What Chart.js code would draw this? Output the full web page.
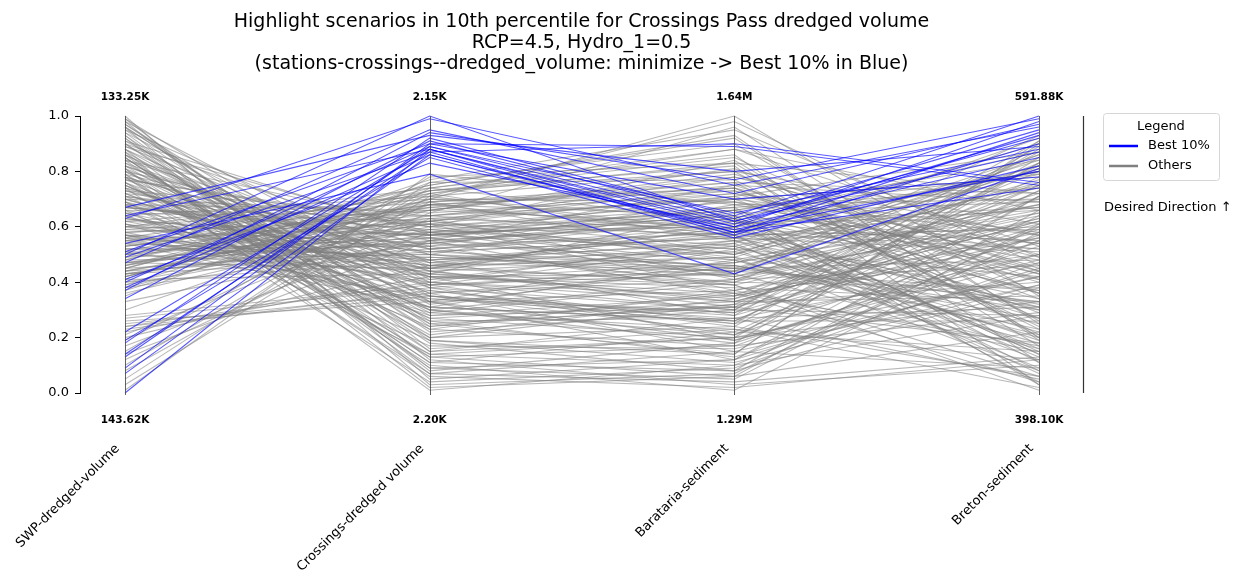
<!DOCTYPE html>
<html>
<head>
<meta charset="utf-8">
<script src="https://cdn.jsdelivr.net/npm/chart.js@4"></script>
<style>
  html, body { margin: 0; padding: 0; background: #fff; }
  #wrap { width: 1241px; height: 576px; }
</style>
</head>
<body>
<div id="wrap"><canvas id="pcChart" width="1241" height="576"></canvas></div>
<script>
// axes of the parallel plot
const axisNames = ['SWP-dredged-volume', 'Crossings-dredged volume', 'Barataria-sediment', 'Breton-sediment'];
const topLabels = ['133.25K', '2.15K', '1.64M', '591.88K'];
const bottomLabels = ['143.62K', '2.20K', '1.29M', '398.10K'];
const titleLines = [
    'Highlight scenarios in 10th percentile for Crossings Pass dredged volume',
    'RCP=4.5, Hydro_1=0.5',
    '(stations-crossings--dredged_volume: minimize -> Best 10% in Blue)'
];

// best 10% scenarios (normalised 0..1 per axis)
const bestSwp = [0.00, 0.07, 0.09, 0.13, 0.14, 0.18, 0.19, 0.22, 0.34, 0.37, 0.38, 0.40, 0.41, 0.47, 0.49, 0.50, 0.51, 0.54, 0.63, 0.64, 0.67];
const bestCrossings = [0.88, 0.86, 0.90, 0.89, 0.87, 0.92, 0.85, 0.88, 0.91, 0.94, 0.86, 0.89, 0.83, 0.95, 0.87, 1.00, 0.90, 0.79, 0.99, 0.88, 0.93];
const bestBarataria = [0.60, 0.58, 0.89, 0.62, 0.57, 0.64, 0.56, 0.61, 0.63, 0.77, 0.59, 0.65, 0.60, 0.72, 0.90, 0.62, 0.70, 0.43, 0.75, 0.58, 0.80];
const bestBreton = [0.98, 0.94, 0.75, 0.87, 0.90, 1.00, 0.82, 0.93, 0.95, 0.99, 0.80, 0.88, 0.85, 0.97, 0.76, 0.92, 0.78, 0.81, 0.96, 0.74, 0.89];

// all other scenarios
const othersSwp = [
    1.00, 0.98, 0.97, 0.95, 0.94, 0.93, 0.91, 0.90, 0.89, 0.88,
    0.87, 0.86, 0.85, 0.84, 0.83, 0.82, 0.81, 0.80, 0.80, 0.79,
    0.78, 0.78, 0.77, 0.76, 0.75, 0.74, 0.74, 0.73, 0.72, 0.71,
    0.70, 0.70, 0.69, 0.68, 0.67, 0.66, 0.65, 0.65, 0.64, 0.63,
    0.62, 0.61, 0.60, 0.60, 0.59, 0.58, 0.57, 0.56, 0.55, 0.55,
    0.54, 0.53, 0.52, 0.51, 0.50, 0.50, 0.49, 0.48, 0.47, 0.46,
    0.45, 0.45, 0.44, 0.43, 0.42, 0.41, 0.40, 0.40, 0.39, 0.38,
    0.37, 0.36, 0.35, 0.33, 0.30, 0.27, 0.25, 0.24, 0.23, 0.22,
    0.21, 0.19, 0.17, 0.15, 0.12, 0.10, 0.08, 0.05, 0.03, 0.01,
    0.99, 0.96, 0.92, 0.86, 0.82, 0.79, 0.76, 0.72, 0.68, 0.63,
    0.59, 0.57, 0.53, 0.48, 0.44, 0.42, 0.96, 0.90, 0.84, 0.77,
    0.71, 0.66, 0.61, 0.58, 0.52, 0.47, 0.43, 0.39, 0.88, 0.75,
    0.93, 0.81, 0.73, 0.69, 0.64, 0.56, 0.51, 0.46, 0.41, 0.26,
    0.97, 0.85, 0.78, 0.67, 0.62, 0.54, 0.49, 0.44, 0.20, 0.14,
    0.99, 0.95, 0.92, 0.89, 0.86, 0.83, 0.80, 0.77, 0.74, 0.71,
    0.68, 0.65, 0.62, 0.60, 0.57, 0.55, 0.52, 0.50, 0.47, 0.45,
    0.98, 0.94, 0.90, 0.87, 0.84, 0.81, 0.78, 0.76, 0.73, 0.70,
    0.67, 0.64, 0.61, 0.58, 0.56, 0.53, 0.51, 0.48, 0.46, 0.43,
    0.96, 0.91, 0.88, 0.85, 0.82, 0.79, 0.75, 0.72, 0.69, 0.66,
    0.63, 0.60, 0.57, 0.54, 0.50, 0.47, 0.42, 0.38, 0.28, 0.24
];
const othersCrossings = [
    0.05, 0.12, 0.30, 0.22, 0.40, 0.08, 0.35, 0.18, 0.45, 0.28,
    0.02, 0.38, 0.15, 0.50, 0.25, 0.42, 0.10, 0.33, 0.55, 0.20,
    0.47, 0.14, 0.60, 0.36, 0.27, 0.52, 0.04, 0.44, 0.31, 0.58,
    0.39, 0.65, 0.24, 0.48, 0.56, 0.17, 0.43, 0.62, 0.34, 0.51,
    0.70, 0.29, 0.46, 0.57, 0.66, 0.37, 0.53, 0.72, 0.41, 0.61,
    0.49, 0.68, 0.59, 0.75, 0.44, 0.63, 0.54, 0.71, 0.58, 0.67,
    0.52, 0.74, 0.64, 0.57, 0.69, 0.77, 0.60, 0.48, 0.73, 0.66,
    0.70, 0.62, 0.76, 0.55, 0.68, 0.38, 0.36, 0.40, 0.37, 0.42,
    0.65, 0.72, 0.58, 0.78, 0.63, 0.74, 0.69, 0.76, 0.71, 0.79,
    0.16, 0.26, 0.09, 0.32, 0.21, 0.06, 0.13, 0.35, 0.19, 0.45,
    0.54, 0.33, 0.62, 0.50, 0.61, 0.70, 0.03, 0.23, 0.11, 0.40,
    0.26, 0.47, 0.39, 0.64, 0.53, 0.45, 0.56, 0.59, 0.07, 0.30,
    0.19, 0.01, 0.50, 0.14, 0.28, 0.48, 0.35, 0.73, 0.43, 0.33,
    0.24, 0.11, 0.07, 0.57, 0.42, 0.31, 0.66, 0.51, 0.46, 0.55,
    0.33, 0.47, 0.20, 0.58, 0.09, 0.44, 0.27, 0.61, 0.38, 0.52,
    0.66, 0.31, 0.57, 0.74, 0.45, 0.62, 0.50, 0.68, 0.55, 0.72,
    0.41, 0.15, 0.52, 0.29, 0.60, 0.36, 0.48, 0.23, 0.64, 0.42,
    0.59, 0.71, 0.46, 0.63, 0.34, 0.67, 0.56, 0.75, 0.61, 0.49,
    0.25, 0.57, 0.39, 0.13, 0.46, 0.53, 0.30, 0.60, 0.43, 0.64,
    0.51, 0.69, 0.40, 0.73, 0.58, 0.62, 0.68, 0.54, 0.39, 0.35
];
const othersBarataria = [
    0.12, 0.03, 0.41, 0.30, 0.55, 0.18, 0.22, 0.08, 0.62, 0.35,
    0.06, 0.47, 0.27, 0.68, 0.14, 0.38, 0.01, 0.52, 0.75, 0.32,
    0.58, 0.10, 0.84, 0.44, 0.20, 0.63, 0.09, 0.33, 0.48, 0.71,
    0.25, 0.96, 0.36, 0.57, 0.42, 0.16, 0.66, 0.78, 0.29, 0.46,
    1.00, 0.40, 0.60, 0.52, 0.81, 0.26, 0.70, 0.88, 0.54, 0.37,
    0.45, 0.73, 0.50, 0.93, 0.31, 0.59, 0.65, 0.98, 0.43, 0.76,
    0.39, 0.86, 0.56, 0.67, 0.74, 0.95, 0.49, 0.28, 0.80, 0.61,
    0.69, 0.53, 0.90, 0.35, 0.64, 0.21, 0.15, 0.30, 0.24, 0.19,
    0.72, 0.55, 0.47, 0.83, 0.41, 0.62, 0.50, 0.77, 0.58, 0.68,
    0.23, 0.13, 0.05, 0.46, 0.34, 0.02, 0.17, 0.28, 0.11, 0.51,
    0.48, 0.19, 0.74, 0.40, 0.57, 0.63, 0.07, 0.37, 0.22, 0.33,
    0.27, 0.44, 0.53, 0.70, 0.36, 0.60, 0.45, 0.66, 0.04, 0.18,
    0.14, 0.10, 0.42, 0.20, 0.31, 0.51, 0.25, 0.85, 0.39, 0.12,
    0.32, 0.08, 0.15, 0.64, 0.43, 0.26, 0.79, 0.56, 0.49, 0.61,
    0.37, 0.55, 0.24, 0.66, 0.12, 0.49, 0.33, 0.72, 0.30, 0.60,
    0.78, 0.26, 0.64, 0.88, 0.40, 0.71, 0.46, 0.57, 0.62, 0.83,
    0.47, 0.20, 0.58, 0.23, 0.69, 0.41, 0.54, 0.17, 0.75, 0.36,
    0.52, 0.80, 0.39, 0.70, 0.27, 0.59, 0.66, 0.92, 0.50, 0.44,
    0.31, 0.63, 0.45, 0.06, 0.53, 0.58, 0.21, 0.67, 0.34, 0.73,
    0.56, 0.76, 0.35, 0.82, 0.60, 0.48, 0.74, 0.63, 0.43, 0.29
];
const othersBreton = [
    0.45, 0.10, 0.72, 0.28, 0.60, 0.85, 0.15, 0.38, 0.52, 0.80,
    0.22, 0.66, 0.05, 0.48, 0.90, 0.33, 0.58, 0.12, 0.41, 0.75,
    0.30, 0.55, 0.20, 0.68, 0.83, 0.08, 0.47, 0.62, 0.18, 0.36,
    0.88, 0.25, 0.50, 0.13, 0.70, 0.42, 0.03, 0.57, 0.78, 0.27,
    0.35, 0.65, 0.16, 0.82, 0.44, 0.73, 0.29, 0.53, 0.09, 0.61,
    0.77, 0.40, 0.86, 0.19, 0.56, 0.31, 0.69, 0.46, 0.93, 0.24,
    0.63, 0.11, 0.51, 0.74, 0.34, 0.49, 0.81, 0.59, 0.21, 0.67,
    0.43, 0.79, 0.26, 0.54, 0.14, 0.71, 0.39, 0.87, 0.06, 0.48,
    0.58, 0.32, 0.76, 0.17, 0.64, 0.37, 0.84, 0.23, 0.52, 0.70,
    0.02, 0.44, 0.61, 0.30, 0.76, 0.12, 0.55, 0.89, 0.39, 0.20,
    0.68, 0.50, 0.27, 0.83, 0.07, 0.41, 0.60, 0.15, 0.73, 0.35,
    0.47, 0.86, 0.22, 0.57, 0.04, 0.66, 0.33, 0.79, 0.13, 0.53,
    0.91, 0.28, 0.62, 0.42, 0.18, 0.75, 0.50, 0.36, 0.01, 0.64,
    0.40, 0.71, 0.09, 0.54, 0.85, 0.26, 0.45, 0.67, 0.31, 0.80,
    0.56, 0.19, 0.83, 0.36, 0.71, 0.08, 0.62, 0.44, 0.91, 0.27,
    0.50, 0.75, 0.14, 0.66, 0.38, 0.87, 0.23, 0.59, 0.04, 0.72,
    0.65, 0.33, 0.80, 0.12, 0.54, 0.46, 0.92, 0.29, 0.69, 0.17,
    0.42, 0.61, 0.06, 0.78, 0.31, 0.55, 0.84, 0.20, 0.74, 0.37,
    0.82, 0.15, 0.48, 0.66, 0.25, 0.90, 0.57, 0.11, 0.63, 0.43,
    0.34, 0.72, 0.58, 0.03, 0.80, 0.21, 0.49, 0.87, 0.16, 0.60
];

const GRAY = 'rgba(128,128,128,0.55)';
const BLUE = 'rgba(0,0,255,0.65)';
const FONT = '"DejaVu Sans", sans-serif';

// one dataset per scenario, points at axis index 0..3
const makeLine = (cols, i, color, order) => ({
    data: cols.map((col, k) => ({ x: k, y: col[i] })),
    borderColor: color,
    borderWidth: 1.1,
    pointRadius: 0,
    tension: 0,
    clip: false,
    order
});

const datasets = [];
othersSwp.forEach((_, i) => datasets.push(makeLine([othersSwp, othersCrossings, othersBarataria, othersBreton], i, GRAY, 1)));
bestSwp.forEach((_, i) => datasets.push(makeLine([bestSwp, bestCrossings, bestBarataria, bestBreton], i, BLUE, 0)));

// draws the vertical axes, the min/max labels, names, title and legend
const parallelDecor = {
    id: 'parallelDecor',
    afterDatasetsDraw(chart) {
        const { ctx, scales: { x, y } } = chart;
        ctx.save();
        ctx.strokeStyle = 'rgba(70,70,70,0.85)';
        ctx.lineWidth = 1;
        axisNames.forEach((_, k) => {
            const px = Math.round(x.getPixelForValue(k)) + 0.5;
            ctx.beginPath();
            ctx.moveTo(px, y.getPixelForValue(1));
            ctx.lineTo(px, y.getPixelForValue(0) + 2);
            ctx.stroke();
        });
        ctx.restore();
    },
    afterDraw(chart) {
        const { ctx, chartArea, scales: { x } } = chart;
        ctx.save();
        ctx.fillStyle = '#000';

        // title
        ctx.font = '19px ' + FONT;
        ctx.textAlign = 'center';
        ctx.textBaseline = 'middle';
        const cx = (chartArea.left + chartArea.right) / 2;
        titleLines.forEach((t, i) => ctx.fillText(t, cx, 22 + i * 21));

        // min / max labels
        ctx.font = 'bold 10.5px ' + FONT;
        axisNames.forEach((_, k) => {
            const px = x.getPixelForValue(k);
            ctx.fillText(topLabels[k], px, 97);
            ctx.fillText(bottomLabels[k], px, 420);
        });

        // rotated axis names (bbox top-right anchored at the axis)
        ctx.font = '13px ' + FONT;
        const h = 13, c = Math.SQRT1_2;
        axisNames.forEach((name, k) => {
            const px = x.getPixelForValue(k);
            ctx.save();
            ctx.translate(px - h * c - 3, 442);
            ctx.rotate(-Math.PI / 4);
            ctx.textAlign = 'right';
            ctx.textBaseline = 'top';
            ctx.fillText(name, 0, 0);
            ctx.restore();
        });

        // direction bar on the right
        ctx.strokeStyle = '#333';
        ctx.lineWidth = 1.2;
        ctx.beginPath();
        ctx.moveTo(1083.5, chartArea.top);
        ctx.lineTo(1083.5, chartArea.bottom);
        ctx.stroke();

        // legend box
        ctx.strokeStyle = '#d6d6d6';
        ctx.lineWidth = 1;
        ctx.fillStyle = '#fff';
        ctx.beginPath();
        ctx.roundRect(1103.5, 113.5, 116, 67, 3);
        ctx.fill();
        ctx.stroke();
        ctx.fillStyle = '#000';
        ctx.font = '13px ' + FONT;
        ctx.textAlign = 'center';
        ctx.fillText('Legend', 1161, 127);
        ctx.textAlign = 'left';
        [['Best 10%', '#0000ff', 146], ['Others', '#808080', 166]].forEach(([label, col, ly]) => {
            ctx.strokeStyle = col;
            ctx.lineWidth = 2.5;
            ctx.beginPath();
            ctx.moveTo(1109, ly);
            ctx.lineTo(1138, ly);
            ctx.stroke();
            ctx.fillText(label, 1148, ly);
        });
        ctx.fillText('Desired Direction \u2191', 1104, 208);
        ctx.restore();
    }
};

new Chart(document.getElementById('pcChart').getContext('2d'), {
    type: 'line',
    data: { datasets },
    options: {
        responsive: false,
        animation: false,
        events: [],
        layout: { padding: { top: 116, bottom: 183, left: 0, right: 158 } },
        plugins: { legend: { display: false }, tooltip: { enabled: false }, title: { display: false } },
        scales: {
            x: { type: 'linear', min: -0.1477, max: 3.1444, display: false },
            y: {
                min: 0,
                max: 1,
                afterFit(scale) { scale.width = 80; },
                ticks: {
                    stepSize: 0.2,
                    padding: 6,
                    color: '#000',
                    font: { family: 'DejaVu Sans', size: 13 },
                    callback: v => v.toFixed(1)
                },
                grid: { drawOnChartArea: false, drawTicks: true, tickLength: 5, color: '#000' },
                border: { display: true, color: '#000', width: 1 }
            }
        }
    },
    plugins: [parallelDecor]
});
</script>
</body>
</html>
